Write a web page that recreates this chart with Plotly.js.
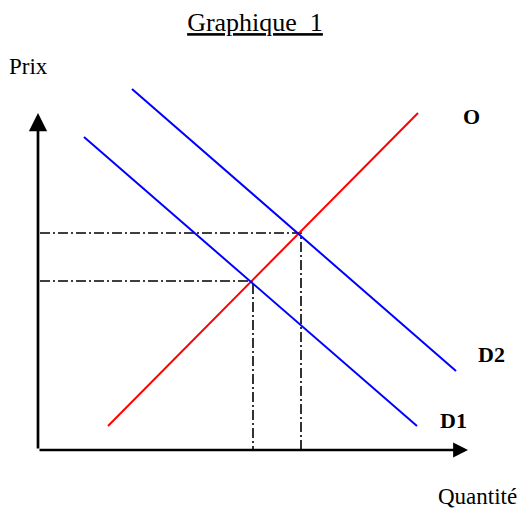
<!DOCTYPE html>
<html>
<head>
<meta charset="utf-8">
<script src="https://cdn.plot.ly/plotly-3.0.1.min.js"></script>
<style>html,body{margin:0;padding:0;background:#fff;}#chart{width:527px;height:510px;}</style>
</head>
<body>
<div id="chart"></div>
<script>
// Data (quantity, price) in abstract units, origin at axis corner
const supplyQ = [7.0, 38.0];
const supplyP = [2.4, 33.7];
const demand1Q = [4.6, 37.9];
const demand1P = [31.3, 2.4];
const demand2Q = [9.4, 41.8];
const demand2P = [36.1, 7.9];
const equilibriumQ = [21.5, 26.3];
const equilibriumP = [16.9, 21.7];
const axisMaxQ = 43.0;
const axisMaxP = 33.7;
const curveLabels = ["O", "D2", "D1"];
const labelQ = [43.3, 45.3, 41.5];
const labelP = [33.4, 9.6, 3.0];

const FONT = "Liberation Serif, Times New Roman, serif";
const dashPattern = "10px,3px,2px,3px";

const traces = [];
// dash-dot guide lines
for (let i = 0; i < equilibriumQ.length; i++) {
  traces.push({
    x: [0.2, equilibriumQ[i], equilibriumQ[i]],
    y: [equilibriumP[i], equilibriumP[i], 0],
    mode: "lines", line: {color: "#000", width: 1.6, dash: dashPattern},
    hoverinfo: "skip", showlegend: false
  });
}
traces.push({x: supplyQ, y: supplyP, mode: "lines", line: {color: "#ff0000", width: 2}, showlegend: false});
traces.push({x: demand1Q, y: demand1P, mode: "lines", line: {color: "#0000ff", width: 2}, showlegend: false});
traces.push({x: demand2Q, y: demand2P, mode: "lines", line: {color: "#0000ff", width: 2}, showlegend: false});

const annotations = [];
// axes with arrows
annotations.push({x: 0, y: axisMaxP, ax: 0, ay: 0, xref: "x", yref: "y", axref: "x", ayref: "y",
  text: "", showarrow: true, arrowhead: 2, arrowsize: 1.35, arrowwidth: 2.7, arrowcolor: "#000", standoff: 0, startstandoff: 0});
annotations.push({x: axisMaxQ, y: 0, ax: 0, ay: 0, xref: "x", yref: "y", axref: "x", ayref: "y",
  text: "", showarrow: true, arrowhead: 2, arrowsize: 1.1, arrowwidth: 2.7, arrowcolor: "#000", standoff: 0, startstandoff: 0});
for (let i = 0; i < curveLabels.length; i++) {
  annotations.push({x: labelQ[i], y: labelP[i], xref: "x", yref: "y", text: "<b>" + curveLabels[i] + "</b>",
    showarrow: false, font: {family: FONT, size: 22, color: "#000"}, xanchor: "center", yanchor: "middle"});
}
annotations.push({x: 28.5/527, y: 1 - 67/510, xref: "paper", yref: "paper", text: "Prix", showarrow: false,
  font: {family: FONT, size: 23, color: "#000"}, xanchor: "center", yanchor: "middle"});
annotations.push({x: 477/527, y: 1 - 496/510, xref: "paper", yref: "paper", text: "Quantité", showarrow: false,
  font: {family: FONT, size: 23, color: "#000"}, xanchor: "center", yanchor: "middle"});

const layout = {
  width: 527, height: 510,
  margin: {l: 0, r: 0, t: 0, b: 0, pad: 0},
  paper_bgcolor: "#fff", plot_bgcolor: "#fff",
  title: {text: "<u>Graphique\u00a0\u00a01</u>", x: 255/527, xanchor: "center", y: 1 - 22/510, yanchor: "middle",
    font: {family: FONT, size: 26, color: "#000"}},
  xaxis: {range: [-3.8, 48.9], visible: false, fixedrange: true},
  yaxis: {range: [-6, 45], visible: false, fixedrange: true},
  annotations: annotations,
  showlegend: false
};
Plotly.newPlot("chart", traces, layout, {staticPlot: true, displayModeBar: false});
</script>
</body>
</html>
